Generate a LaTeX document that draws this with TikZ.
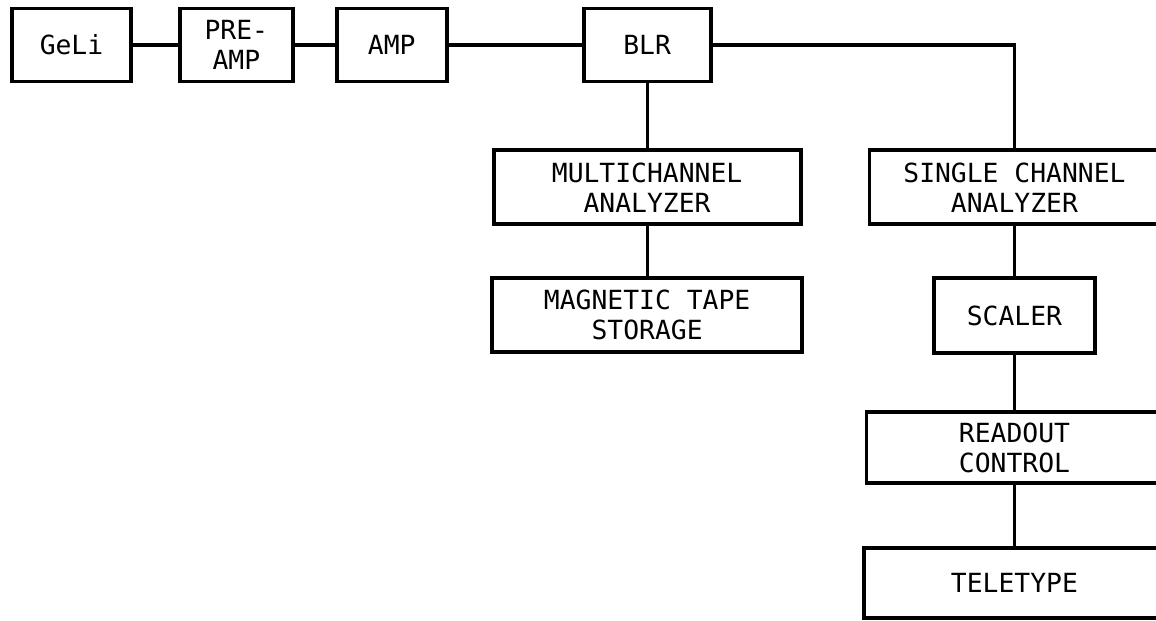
\documentclass[tikz,border=0pt]{standalone}
\usepackage{fontspec}
\setmonofont{DejaVu Sans Mono}
\usepackage{tikz}
\usetikzlibrary{positioning}

\begin{document}
\begin{tikzpicture}[
  blockbox/.style={draw=black, line width=2.2pt, fill=white,
              minimum height=1.48cm, inner sep=2pt,
              font=\ttfamily\fontsize{15}{17}\selectfont, align=center},
  wire/.style={line width=1.8pt, draw=black}
]
  \useasboundingbox (0,0) rectangle (23.12,-12.42);
  \clip (0,0) rectangle (23.12,-12.42);

  % signal chain
  \node[blockbox, minimum width=2.38cm, minimum height=1.46cm] (geli) at (1.43,-0.9) {GeLi};
  \node[blockbox, minimum width=2.26cm, minimum height=1.46cm, right=0.9cm of geli] (preamp) {PRE-\\AMP};
  \node[blockbox, minimum width=2.2cm, minimum height=1.46cm, right=0.8cm of preamp] (amp) {AMP};
  \node[blockbox, minimum width=2.54cm, minimum height=1.46cm, right=2.66cm of amp] (blr) {BLR};

  \draw[wire] (geli) -- (preamp);
  \draw[wire] (preamp) -- (amp);
  \draw[wire] (amp) -- (blr);

  % multichannel branch
  \node[blockbox, minimum width=6.14cm, below=1.3cm of blr] (mca) {MULTICHANNEL\\ANALYZER};
  \node[blockbox, minimum width=6.2cm, below=1.0cm of mca] (tape) {MAGNETIC TAPE\\STORAGE};

  \draw[wire] (blr) -- (mca);
  \draw[wire] (mca) -- (tape);

  % single channel branch
  \node[blockbox, minimum width=5.8cm, right=1.3cm of mca] (sca) {SINGLE CHANNEL\\ANALYZER};
  \node[blockbox, minimum width=3.22cm, minimum height=1.5cm, below=1.0cm of sca] (scaler) {SCALER};
  \node[blockbox, minimum width=5.92cm, minimum height=1.42cm, below=1.1cm of scaler] (readout) {READOUT\\CONTROL};
  \node[blockbox, minimum width=6.02cm, minimum height=1.40cm, below=1.22cm of readout] (tty) {TELETYPE};

  \draw[wire] (blr) -| (sca);
  \draw[wire] (sca) -- (scaler);
  \draw[wire] (scaler) -- (readout);
  \draw[wire] (readout) -- (tty);
\end{tikzpicture}
\end{document}
